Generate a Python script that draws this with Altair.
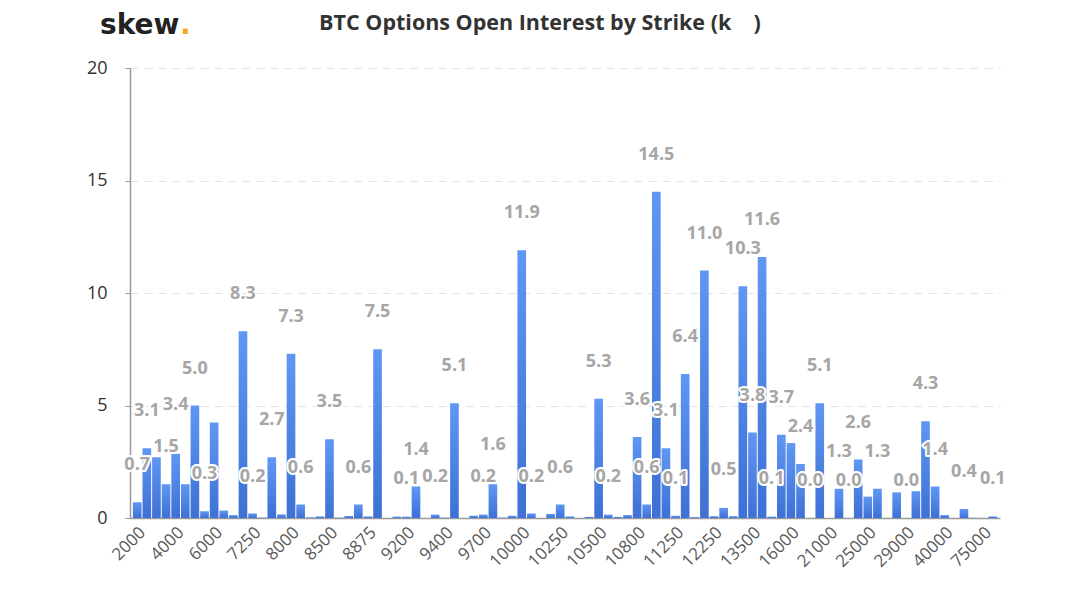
import altair as alt
import pandas as pd

# strike categories (only every 4th is labelled on the axis)
strikes = [
    "2000", "2500", "3000", "3500", "4000", "4500", "5000", "5500", "6000", "6500",
    "6750", "7000", "7250", "7500", "7625", "7750", "8000", "8125", "8250", "8375",
    "8500", "8625", "8750", "8800", "8875", "9000", "9050", "9100", "9200", "9250",
    "9300", "9350", "9400", "9500", "9550", "9600", "9700", "9750", "9800", "9900",
    "10000", "10050", "10100", "10200", "10250", "10300", "10400", "10450", "10500", "10600",
    "10700", "10750", "10800", "10900", "11000", "11125", "11250", "11500", "11750", "12000",
    "12250", "12500", "12750", "13000", "13500", "14000", "14500", "15000", "16000", "17000",
    "18000", "20000", "21000", "22000", "23000", "24000", "25000", "26000", "27000", "28000",
    "29000", "32000", "36000", "38000", "40000", "45000", "50000", "60000", "75000", "100000",
]

open_interest = [
    0.7, 3.1, 2.7, 1.5, 2.85, 1.5, 5.0, 0.3, 4.25, 0.33,
    0.13, 8.3, 0.2, 0.02, 2.7, 0.16, 7.3, 0.6, 0.03, 0.07,
    3.5, 0.02, 0.09, 0.6, 0.07, 7.5, 0.0, 0.06, 0.06, 1.4,
    0.0, 0.15, 0.02, 5.1, 0.0, 0.1, 0.15, 1.5, 0.02, 0.1,
    11.9, 0.2, 0.0, 0.18, 0.6, 0.07, 0.0, 0.05, 5.3, 0.15,
    0.05, 0.13, 3.6, 0.6, 14.5, 3.1, 0.1, 6.4, 0.04, 11.0,
    0.08, 0.45, 0.08, 10.3, 3.8, 11.6, 0.06, 3.7, 3.33, 2.4,
    0.0, 5.1, 0.0, 1.3, 0.0, 2.6, 0.95, 1.3, 0.0, 1.14,
    0.0, 1.19, 4.3, 1.4, 0.13, 0.0, 0.4, 0.01, 0.0, 0.07,
]

axis_labels = [
    "2000", "4000", "6000", "7250", "8000", "8500", "8875", "9200", "9400", "9700",
    "10000", "10250", "10500", "10800", "11250", "12250", "13500", "16000", "21000",
    "25000", "29000", "40000", "75000",
]

# data labels shown on the picture: (strike, value)
label_strikes = [
    "2000", "2500", "3500", "4000", "5000", "5500", "7000", "7250", "7625", "8000",
    "8125", "8500", "8800", "9000", "9200", "9250", "9350", "9500", "9700", "9750",
    "10000", "10050", "10250", "10500", "10600", "10800", "10900", "11000", "11125", "11250",
    "11500", "12000", "12500", "13000", "13500", "14000", "14500", "15000", "17000", "18000",
    "20000", "22000", "23000", "24000", "26000", "29000", "36000", "38000", "50000", "100000",
]
label_values = [
    0.7, 3.1, 1.5, 3.4, 5.0, 0.3, 8.3, 0.2, 2.7, 7.3,
    0.6, 3.5, 0.6, 7.5, 0.1, 1.4, 0.2, 5.1, 0.2, 1.6,
    11.9, 0.2, 0.6, 5.3, 0.2, 3.6, 0.6, 14.5, 3.1, 0.1,
    6.4, 11.0, 0.5, 10.3, 3.8, 11.6, 0.1, 3.7, 2.4, 0.0,
    5.1, 1.3, 0.0, 2.6, 1.3, 0.0, 4.3, 1.4, 0.4, 0.1,
]

title_text = "BTC Options Open Interest by Strike (k\u00a0\u00a0\u00a0\u00a0)"

bars_df = pd.DataFrame({"strike": strikes, "oi": open_interest})
labels_df = pd.DataFrame({
    "strike": label_strikes,
    "v": label_values,
    "txt": [f"{v:.1f}" for v in label_values],
})

FONT = "Open Sans"

x_enc = alt.X(
    "strike:N",
    sort=strikes,
    scale=alt.Scale(domain=strikes, paddingInner=0.1, paddingOuter=0.3),
    axis=alt.Axis(
        values=axis_labels, labelAngle=-45, title=None, ticks=False,
        labelFontSize=17, labelColor="#595959", labelFont=FONT, labelPadding=6,
        domainColor="#999999", domainWidth=1.5, grid=False, labelOverlap=False,
    ),
)
y_scale = alt.Scale(domain=[0, 20])

bars = alt.Chart(bars_df).mark_bar(
    color=alt.Gradient(
        gradient="linear",
        stops=[alt.GradientStop(color="#5f97f3", offset=0),
               alt.GradientStop(color="#3e70d6", offset=1)],
        x1=1, x2=1, y1=0, y2=1,
    )
).encode(
    x=x_enc,
    y=alt.Y(
        "oi:Q", scale=y_scale,
        axis=alt.Axis(
            values=[0, 5, 10, 15, 20], title=None, labelFontSize=18,
            labelColor="#333333", labelFont=FONT, labelPadding=18,
            tickSize=5, tickColor="#999999", domainColor="#999999", domainWidth=1.5,
            grid=True, gridColor="#e3e3e3", gridDash=[8, 6], gridWidth=1,
        ),
    ),
)

halo = alt.Chart(labels_df).mark_text(
    font=FONT, fontSize=18, fontWeight="bold", dy=-37, baseline="middle",
    stroke="white", strokeWidth=4, strokeJoin="round", fill="white",
).encode(x=alt.X("strike:N", sort=strikes), y=alt.Y("v:Q", scale=y_scale), text="txt:N")

txt = alt.Chart(labels_df).mark_text(
    font=FONT, fontSize=18, fontWeight="bold", dy=-37, baseline="middle",
    color="#a6a6a6",
).encode(x=alt.X("strike:N", sort=strikes), y=alt.Y("v:Q", scale=y_scale), text="txt:N")

title_df = pd.DataFrame({"t": [title_text]})
title = alt.Chart(title_df).mark_text(
    font=FONT, fontSize=21.5, fontWeight="bold", color="#333333",
    align="center", baseline="middle",
).encode(text="t:N", x=alt.value(410), y=alt.value(-44))

LOGO_FONT = "DejaVu Sans"
logo_df = pd.DataFrame({"t": ["skew"]})
logo = alt.Chart(logo_df).mark_text(
    font=LOGO_FONT, fontSize=28, fontWeight="bold", color="#222222",
    align="left", baseline="alphabetic",
).encode(text="t:N", x=alt.value(-30), y=alt.value(-34))
dot = alt.Chart(pd.DataFrame({"t": ["."]})).mark_text(
    font=LOGO_FONT, fontSize=28, fontWeight="bold", color="#f5a623",
    align="left", baseline="alphabetic",
).encode(text="t:N", x=alt.value(50), y=alt.value(-34))

chart = alt.layer(bars, halo, txt, title, logo, dot).properties(
    width=870, height=450,
    autosize=alt.AutoSizeParams(type="none"),
    padding={"left": 122, "top": 60, "right": 60, "bottom": 85},
).configure_view(stroke=None)

chart.save("out.html", embed_options={"renderer": "svg", "actions": False})
